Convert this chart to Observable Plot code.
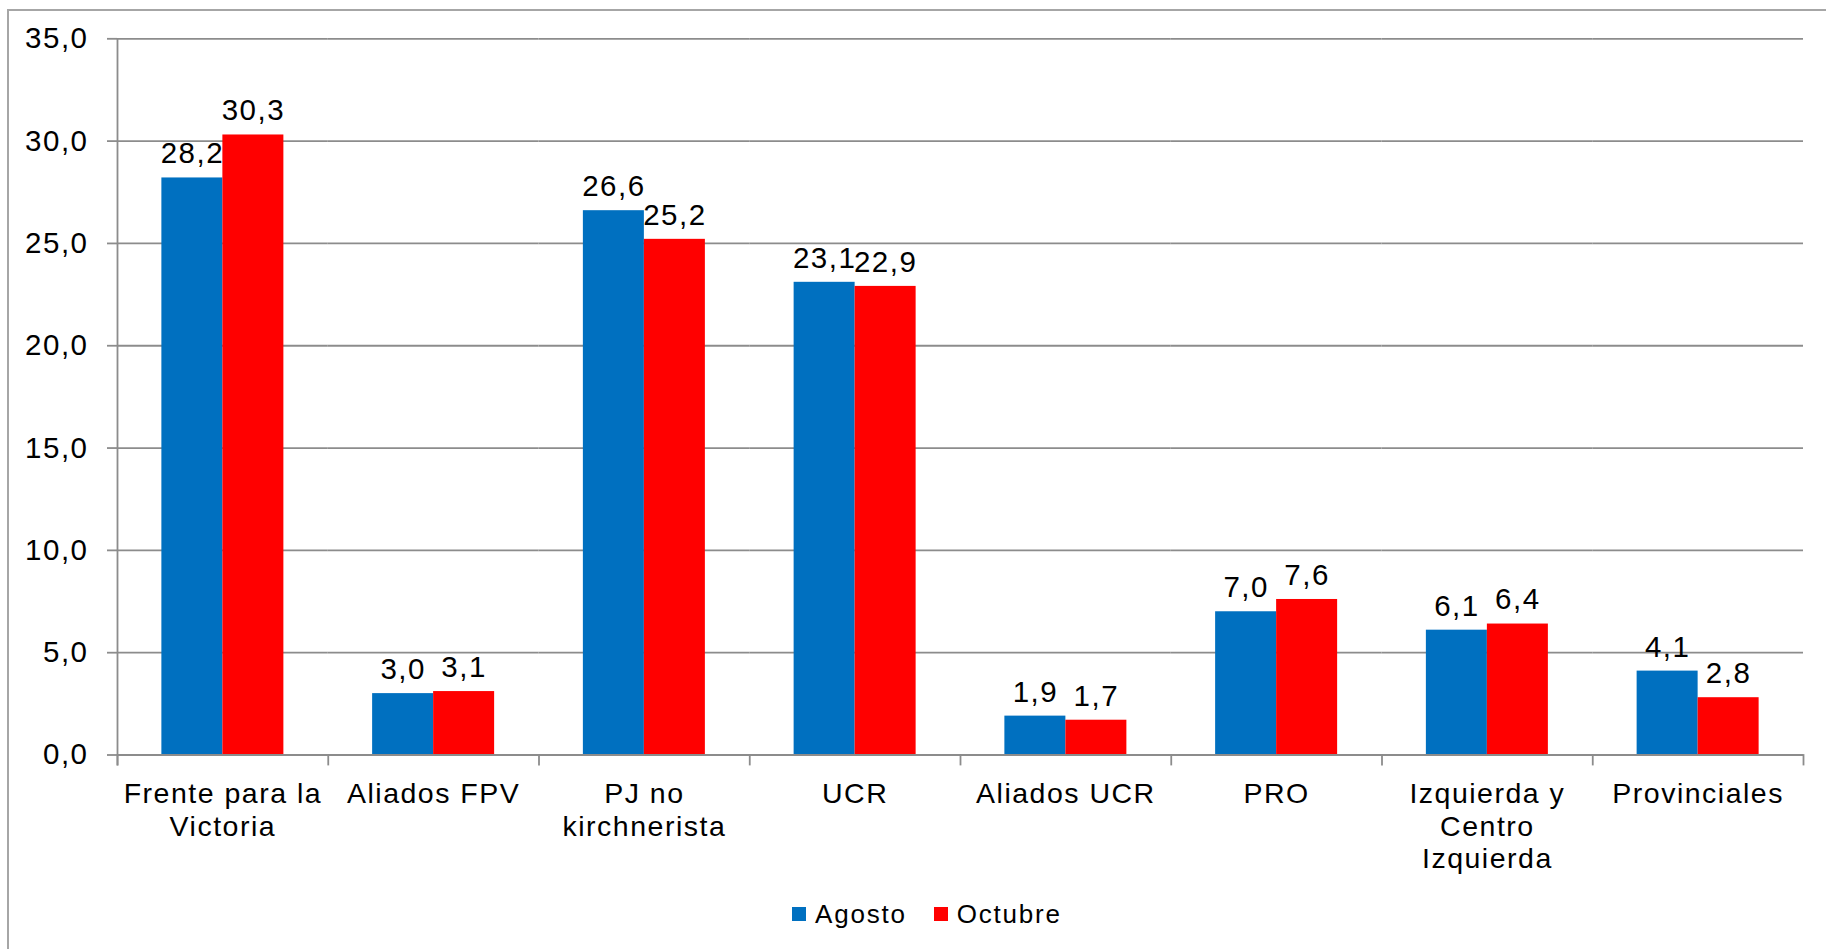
<!DOCTYPE html>
<html><head><meta charset="utf-8">
<script src="https://cdn.jsdelivr.net/npm/d3@7"></script>
<script src="https://cdn.jsdelivr.net/npm/@observablehq/plot@0.6"></script>
<style>
html,body{margin:0;padding:0;background:#fff;overflow:hidden;width:1826px;height:949px}
body{position:relative;font-family:"Liberation Sans",Arial,sans-serif}
#border{position:absolute;left:7px;top:9px;width:1900px;height:1000px;border:2px solid #a6a6a6;box-sizing:border-box}
#chart{position:absolute;left:0;top:0}
#chart svg text{letter-spacing:1.5px}
#legend{position:absolute;top:899px;left:792px;display:flex;align-items:center;font-size:26px;line-height:30px;letter-spacing:1.8px;color:#000;white-space:nowrap}
#legend .item{display:flex;align-items:center;margin-right:27px}
#legend .sw{width:14px;height:14px;display:inline-block;margin-right:9px}
</style></head><body>
<div id="border"></div><div id="chart"></div><div id="legend"></div>
<script>
const categories = ["Frente para la Victoria","Aliados FPV","PJ no kirchnerista","UCR","Aliados UCR","PRO","Izquierda y Centro Izquierda","Provinciales"];
const tickLabels = ["Frente para la\nVictoria","Aliados FPV","PJ no\nkirchnerista","UCR","Aliados UCR","PRO","Izquierda y\nCentro\nIzquierda","Provinciales"];
const series = ["Agosto","Octubre"];
const agosto = [28.2,3.0,26.6,23.1,1.9,7.0,6.1,4.1];
const octubre = [30.3,3.1,25.2,22.9,1.7,7.6,6.4,2.8];
const yTicks = [0,5,10,15,20,25,30,35];
const colors = ["#0070C0","#FF0000"];

const rows = categories.flatMap((c,i)=>[
  {category:c, series:series[0], value:agosto[i]},
  {category:c, series:series[1], value:octubre[i]}
]);
const fmt = v => v.toFixed(1).replace(".", ",");
const gridColor = "#8c8c8c";
const W = 1826, H = 890, mT = 38.3, mB = 135.5, mL = 117, mR = 23;
const plotH = H - mT - mB;
const tickLen = 9.5;

const chart = Plot.plot({
  width: W, height: H, marginLeft: mL, marginRight: mR, marginTop: mT, marginBottom: mB,
  style: {fontFamily: '"Liberation Sans", Arial, sans-serif', color: "#000", background: "transparent", overflow: "visible"},
  fx: {domain: categories, padding: 0, round: false},
  x: {domain: series, paddingInner: 0, paddingOuter: 0.7275, round: false, axis: null},
  y: {domain: [0, 35]},
  color: {domain: series, range: colors},
  marks: [
    Plot.ruleY(yTicks, {stroke: gridColor, strokeWidth: 1.8}),
    Plot.barY(rows, {fx: "category", x: "series", y: "value", fill: "series"}),
    Plot.ruleY([0], {stroke: gridColor, strokeWidth: 1.8}),
    Plot.axisY({ticks: yTicks, tickFormat: fmt, tickSize: 10, tickPadding: 19, fontSize: 29.5, stroke: gridColor, strokeWidth: 1.8, label: null}),
    Plot.frame({anchor: "left", facetAnchor: "left", stroke: gridColor, strokeWidth: 1.8, insetBottom: -tickLen}),
    Plot.frame({anchor: "left", stroke: gridColor, strokeWidth: 1.8, insetTop: plotH, insetBottom: -tickLen}),
    Plot.frame({anchor: "right", facetAnchor: "right", stroke: gridColor, strokeWidth: 1.8, insetTop: plotH, insetBottom: -tickLen}),
    Plot.text(rows, {fx: "category", x: "series", y: "value", text: d => fmt(d.value), dy: -24, fontSize: 29.5, fill: "#000"}),
    Plot.axisFx({anchor: "bottom", tickSize: 0, tickPadding: 25, fontSize: 28.5, lineHeight: 1.14, label: null,
      tickFormat: d => tickLabels[categories.indexOf(d)]})
  ]
});
document.getElementById("chart").appendChild(chart);

const legend = document.getElementById("legend");
series.forEach((s, i) => {
  const item = document.createElement("span");
  item.className = "item";
  const sw = document.createElement("span");
  sw.className = "sw";
  sw.style.background = colors[i];
  const t = document.createElement("span");
  t.textContent = s;
  item.appendChild(sw); item.appendChild(t);
  legend.appendChild(item);
});
</script>
</body></html>
